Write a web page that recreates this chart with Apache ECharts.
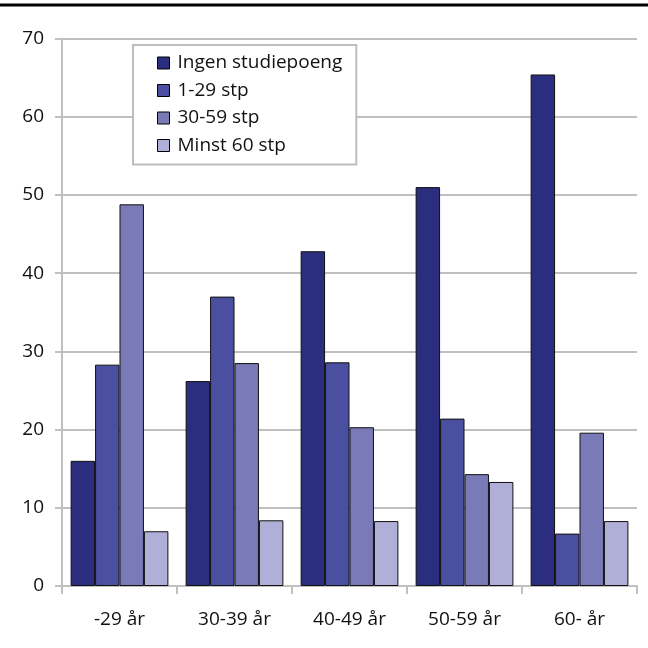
<!DOCTYPE html>
<html><head><meta charset="utf-8">
<script src="https://cdn.jsdelivr.net/npm/echarts@6/dist/echarts.min.js"></script>
<style>html,body{margin:0;padding:0;background:#fff}#c{width:648px;height:648px}</style>
</head><body><div id="c"></div>
<script>
const categories = ['-29 år', '30-39 år', '40-49 år', '50-59 år', '60- år'];
const seriesNames = ['Ingen studiepoeng', '1-29 stp', '30-59 stp', 'Minst 60 stp'];
const ingen = [16.0, 26.2, 42.8, 51.0, 65.4];
const stp1_29 = [28.3, 37.0, 28.6, 21.4, 6.7];
const stp30_59 = [48.8, 28.5, 20.3, 14.3, 19.6];
const minst60 = [7.0, 8.4, 8.3, 13.3, 8.3];
const colors = ['#2B2E7E', '#4B4F9F', '#7A7AB8', '#B0AFD8'];
const FONT = '"Open Sans", "Noto Sans", sans-serif';
const values = [ingen, stp1_29, stp30_59, minst60];

const chart = echarts.init(document.getElementById('c'), null, {renderer: 'canvas'});
chart.setOption({
  animation: false,
  textStyle: {fontFamily: FONT},
  graphic: [{type: 'rect', shape: {x: 0, y: 3.5, width: 648, height: 3}, style: {fill: '#000'}}],
  grid: {left: 62, right: 11, top: 38.5, bottom: 62},
  legend: {
    orient: 'vertical', left: 133, top: 45,
    data: seriesNames,
    backgroundColor: '#fff',
    borderColor: '#BDBDBD', borderWidth: 2,
    padding: [8, 14, 9, 24],
    itemWidth: 12, itemHeight: 12, itemGap: 7.5,
    icon: 'rect',
    textStyle: {fontFamily: FONT, fontSize: 19, color: '#111', lineHeight: 20, padding: [0, 0, 0, 3]},
    itemStyle: {borderColor: '#000', borderWidth: 1}
  },
  xAxis: {
    type: 'category', data: categories,
    axisLine: {lineStyle: {color: '#C0C0C0', width: 2}},
    axisTick: {show: true, length: 8, lineStyle: {color: '#C0C0C0', width: 2}},
    axisLabel: {fontFamily: FONT, fontSize: 19, color: '#111', margin: 24}
  },
  yAxis: {
    type: 'value', min: 0, max: 70, interval: 10,
    axisLine: {show: true, lineStyle: {color: '#C0C0C0', width: 2}},
    axisTick: {show: true, length: 7, lineStyle: {color: '#C0C0C0', width: 2}},
    splitLine: {lineStyle: {color: '#C0C0C0', width: 2}},
    axisLabel: {fontFamily: FONT, fontSize: 19, color: '#111', margin: 18}
  },
  series: seriesNames.map((n, i) => ({
    name: n, type: 'bar', data: values[i],
    barGap: '0%', barCategoryGap: '15%',
    itemStyle: {color: colors[i], borderColor: '#111', borderWidth: 1}
  }))
});
</script></body></html>
